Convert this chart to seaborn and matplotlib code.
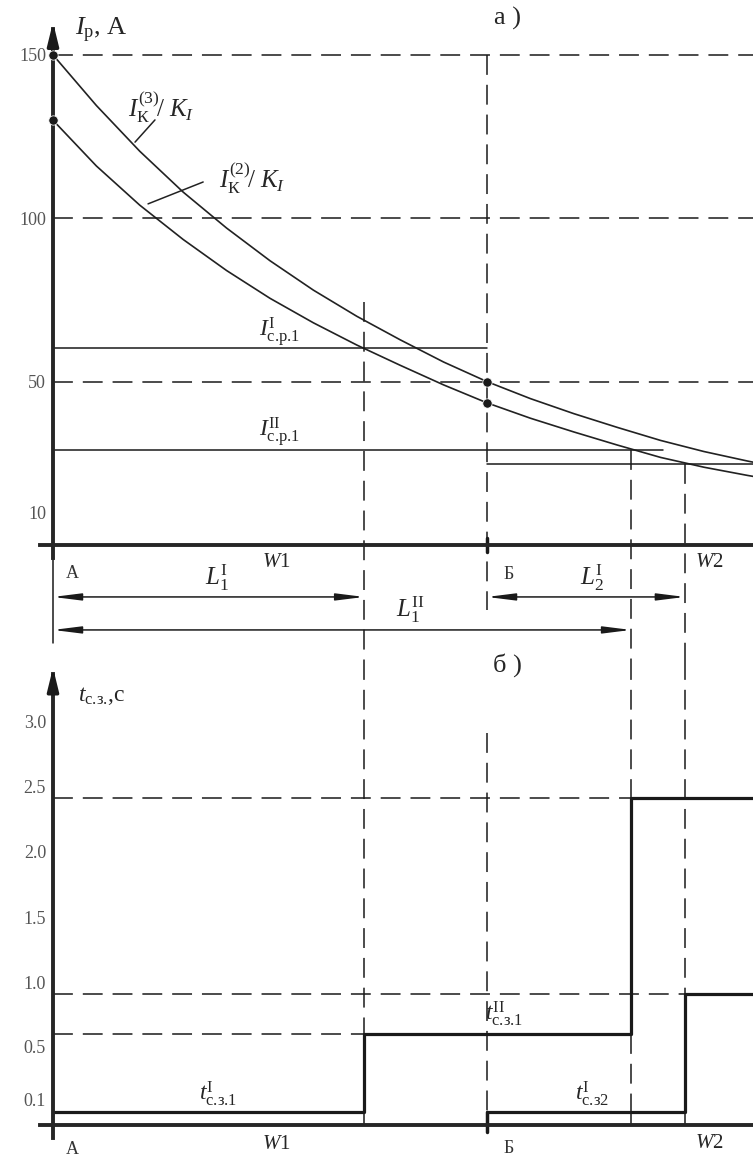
import pandas as pd
import seaborn as sns
import matplotlib.pyplot as plt
from matplotlib.transforms import ScaledTranslation

# distance along the line, A = 0, Б = 100 (relative units)
dist = [0, 10, 20, 30, 40, 50, 60, 70, 80, 90, 100, 110, 120, 130, 140, 150, 160, 170]
# three-phase and two-phase fault current / K_I, A
i_k3 = [150, 134.5, 120.5, 108, 97, 87, 78, 70, 62.8, 56, 50, 44.8, 40.2, 36, 32, 28.6, 25.7, 23]
i_k2 = [130, 116, 104, 93.5, 84, 75.5, 68, 61.2, 55, 49, 43.5, 38.8, 34.6, 30.6, 26.8, 23.8, 21.3, 19]

x_b = 100        # substation Б
x_l1_i = 71.7    # end of zone L1'
x_l1_ii = 133.2  # end of zone L1''
x_w2 = 145.6     # end of zone L2'
x_end = 161.3

# pick-up currents, A
i_sr1_i = 60.3
i_sr1_ii = 29.1
i_sr2_i = 24.8
x_sr1_ii_end = 140.5

dot_x = [0, 0, x_b, x_b]
dot_i = [150, 130, 50, 43.5]

# relay operating times, s
step1_x = [0, x_l1_i, x_l1_ii, x_end]
step1_t = [0.1, 0.7, 2.5, 2.5]
step2_x = [x_b, x_w2, x_end]
step2_t = [0.1, 1.0, 1.0]

i_ticks = list(range(10, 160, 10))
i_ticklabels = ['10' if v == 10 else '50' if v == 50 else '100' if v == 100 else '150' if v == 150 else '' for v in i_ticks]
t_ticks = [0.1, 0.6, 1.0, 1.5, 2.0, 2.5, 3.0]
t_ticklabels = ['0.1', '0.5', '1.0', '1.5', '2.0', '2.5', '3.0']

sns.set_theme(style='white')
plt.rcParams['font.family'] = ['Liberation Serif', 'DejaVu Serif']
plt.rcParams['mathtext.fontset'] = 'custom'
plt.rcParams['mathtext.rm'] = 'Liberation Serif'
plt.rcParams['mathtext.it'] = 'Liberation Serif:italic'
plt.rcParams['mathtext.bf'] = 'Liberation Serif:bold'

# mathtext puts a space after '.', cancel it
D = r'.\hspace{-0.2}'

H = 1162
fig = plt.figure(figsize=(7.53, 11.62), dpi=100)
ax1 = fig.add_axes([0, 1 - 660 / H, 1, 660 / H])
ax2 = fig.add_axes([0, 0, 1, 502 / H])

dash = (0, (13, 6.5))
thin = dict(color='k', lw=1.1)
dashed = dict(color='k', lw=1.1, ls=dash)

# ---------- a) currents ----------
df = pd.DataFrame({'dist': dist * 2, 'I': i_k3 + i_k2,
                   'curve': ['k3'] * len(dist) + ['k2'] * len(dist)})
sns.lineplot(data=df, x='dist', y='I', units='curve', estimator=None,
             color='#222', lw=1.2, ax=ax1, legend=False)
sns.scatterplot(x=dot_x, y=dot_i, color='k', s=45, ax=ax1, zorder=5,
                clip_on=False, legend=False)

for lvl in (150, 100, 50):
    ax1.plot([0, x_end], [lvl, lvl], **dashed)
ax1.plot([x_b, x_b], [150, -20], **dashed)
ax1.plot([x_l1_i, x_l1_i], [74.4, -35.2], **dashed)
ax1.plot([x_l1_ii, x_l1_ii], [i_sr1_ii, -35.2], **dashed)
ax1.plot([x_w2, x_w2], [i_sr2_i, -35.2], **dashed)

ax1.plot([0, x_b], [i_sr1_i, i_sr1_i], **thin)
ax1.plot([0, x_sr1_ii_end], [i_sr1_ii, i_sr1_ii], **thin)
ax1.plot([x_b, x_end], [i_sr2_i, i_sr2_i], **thin)
ax1.plot([0, 0], [-4, -30], **thin)
ax1.plot([x_b, x_b], [-2, 2], color='k', lw=2.5)

ax1.annotate('', xy=(0, 160), xytext=(0, 150),
             arrowprops=dict(arrowstyle='-|>,head_length=0.9,head_width=0.22',
                             lw=2.5, color='k', shrinkA=0, shrinkB=0, mutation_scale=15))

arr = dict(arrowstyle='<|-|>,head_length=1.2,head_width=0.15', lw=1.1, color='k',
           shrinkA=0, shrinkB=0, mutation_scale=14)
ax1.annotate('', xy=(0, -15.9), xytext=(x_l1_i, -15.9), arrowprops=arr)
ax1.annotate('', xy=(x_b, -15.9), xytext=(x_w2, -15.9), arrowprops=arr)
ax1.annotate('', xy=(0, -26), xytext=(x_l1_ii, -26), arrowprops=arr)

# leaders to the curves
ax1.plot([18.9, 23.5], [123.3, 130.1], color='#222', lw=1.1)
ax1.plot([21.9, 34.6], [104.4, 111.1], color='#222', lw=1.1)

ax1.text(5, 157.5, r'$I_{\mathrm{р}}$, A', fontsize=19, va='center', ha='left')
ax1.text(104.8, 161, 'а )', fontsize=19, va='center', ha='center')
ax1.text(25, 134, r'$I_{\mathrm{К}}^{(3)}\!/\ K_{I}$', fontsize=18, va='center', ha='center')
ax1.text(45.8, 112.3, r'$I_{\mathrm{К}}^{(2)}\!/\ K_{I}$', fontsize=18, va='center', ha='center')
ax1.text(52.3, 65, r'$I^{\mathrm{I}}_{\mathrm{с' + D + 'р' + D + '1}}$', fontsize=17, va='center', ha='center')
ax1.text(52.3, 34.6, r'$I^{\mathrm{II}}_{\mathrm{с' + D + 'р' + D + '1}}$', fontsize=17, va='center', ha='center')
ax1.text(4.4, -8.6, 'А', fontsize=13, va='center', ha='center', color='#333')
ax1.text(51.4, -5.5, r'$W$1', fontsize=15, va='center', ha='center')
ax1.text(37.8, -10.1, r'$L_{1}^{\mathrm{I}}$', fontsize=18, va='center', ha='center')
ax1.text(105, -8.9, 'Б', fontsize=13, va='center', ha='center', color='#333')
ax1.text(124.2, -10.1, r'$L_{2}^{\mathrm{I}}$', fontsize=18, va='center', ha='center')
ax1.text(151.3, -5.5, r'$W$2', fontsize=15, va='center', ha='center')
ax1.text(82.3, -19.9, r'$L_{1}^{\mathrm{II}}$', fontsize=18, va='center', ha='center')

# ---------- б) times ----------
ax2.plot([0, x_l1_ii], [2.5, 2.5], **dashed)
ax2.plot([0, x_w2], [1.0, 1.0], **dashed)
ax2.plot([0, x_l1_i], [0.7, 0.7], **dashed)
ax2.plot([x_l1_i, x_l1_i], [3.559, 0.7], **dashed)
ax2.plot([x_b, x_b], [3.0, 0.1], **dashed)
ax2.plot([x_l1_ii, x_l1_ii], [3.559, 2.5], **dashed)
ax2.plot([x_l1_ii, x_l1_ii], [0.7, 0.1], **dashed)
ax2.plot([x_w2, x_w2], [3.559, 1.0], **dashed)
for xv in (x_l1_i, x_l1_ii, x_w2):
    ax2.plot([xv, xv], [0, 0.1], **thin)
ax2.plot([x_b, x_b], [-0.05, 0.1], color='k', lw=2.5)

sns.lineplot(x=step1_x, y=step1_t, drawstyle='steps-post', color='k', lw=2.3, ax=ax2)
sns.lineplot(x=step2_x, y=step2_t, drawstyle='steps-post', color='k', lw=2.3, ax=ax2)

ax2.annotate('', xy=(0, 3.5), xytext=(0, 3.3),
             arrowprops=dict(arrowstyle='-|>,head_length=0.9,head_width=0.22',
                             lw=2.5, color='k', shrinkA=0, shrinkB=0, mutation_scale=15))

ax2.text(104.8, 3.52, 'б )', fontsize=19, va='center', ha='center')
ax2.text(5.8, 3.28, r'$t_{\mathrm{с' + D + 'з' + D + '}}$,с', fontsize=17, va='center', ha='left')
ax2.text(38, 0.24, r'$t^{\mathrm{I}}_{\mathrm{с' + D + 'з' + D + '1}}$', fontsize=17, va='center', ha='center')
ax2.text(103.9, 0.85, r'$t^{\mathrm{II}}_{\mathrm{с' + D + 'з' + D + '1}}$', fontsize=17, va='center', ha='center')
ax2.text(124.2, 0.24, r'$t^{\mathrm{I}}_{\mathrm{с' + D + 'з2}}$', fontsize=17, va='center', ha='center')
ax2.text(4.4, -0.19, 'А', fontsize=13, va='center', ha='center', color='#333')
ax2.text(51.4, -0.15, r'$W$1', fontsize=15, va='center', ha='center')
ax2.text(105, -0.18, 'Б', fontsize=13, va='center', ha='center', color='#333')
ax2.text(151.3, -0.14, r'$W$2', fontsize=15, va='center', ha='center')

# axes frames after seaborn so its labels are cleared
for ax in (ax1, ax2):
    ax.set_facecolor('none')
    ax.set_xlim(-12.21, 161.29)
    ax.spines['top'].set_visible(False)
    ax.spines['right'].set_visible(False)
    ax.spines['left'].set_position(('data', 0))
    ax.spines['bottom'].set_position(('data', 0))
    ax.spines['left'].set_linewidth(2.8)
    ax.spines['bottom'].set_linewidth(2.8)
    ax.spines['bottom'].set_bounds(-3, x_end)
    ax.set_xticks([])
    ax.tick_params(axis='y', direction='inout', length=10, width=2.5,
                   labelsize=13, labelcolor='#555', pad=0)
    ax.set_xlabel('')
    ax.set_ylabel('')

ax1.set_ylim(-35.2, 166.8)
ax1.spines['left'].set_bounds(-4, 158)
ax1.set_yticks(i_ticks)
ax1.set_yticklabels(i_ticklabels)

ax2.set_ylim(-0.283, 3.559)
ax2.spines['left'].set_bounds(-0.1, 3.45)
ax2.set_yticks(t_ticks)
ax2.set_yticklabels(t_ticklabels)
for lab, dy in zip(ax2.get_yticklabels(), [12, 0, 12, 12, 12, 12, 12]):
    lab.set_transform(lab.get_transform() + ScaledTranslation(0, dy / 100, fig.dpi_scale_trans))

fig.savefig('out.png', dpi=100)
